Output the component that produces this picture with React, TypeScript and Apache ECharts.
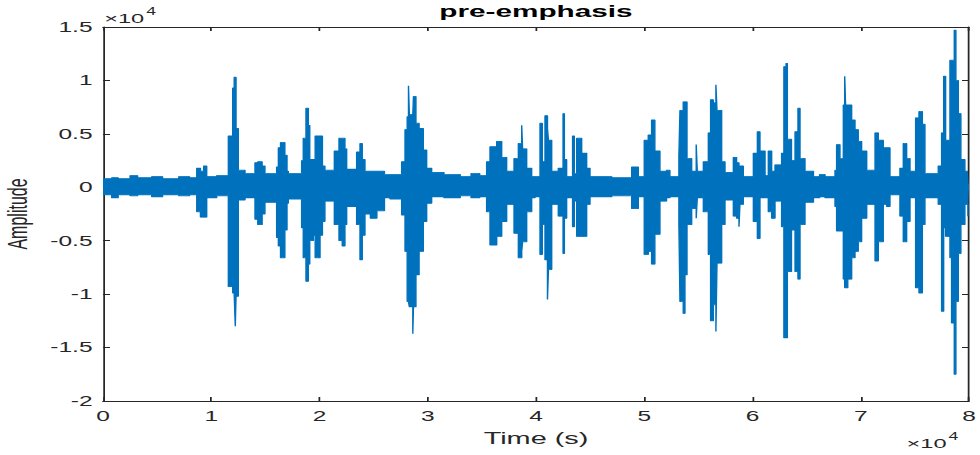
import React, { useEffect, useRef } from "react";
import * as echarts from "echarts";

// Axis ticks (time axis in units of 1e4 samples, amplitude in units of 1e4)
const xTicks = [0, 1, 2, 3, 4, 5, 6, 7, 8];
const yTicks = [-2, -1.5, -1, -0.5, 0, 0.5, 1, 1.5];
const xMax = 8;

// Waveform envelope: [segment start (x1e4), upper (x1e4), lower (x1e4)]
// each segment lasts until the next start
const envelope: [number, number, number][] = [
  [0.0, 0.08, -0.07], [0.08, 0.09, -0.1], [0.14, 0.08, -0.07], [0.25, 0.11, -0.08],
  [0.32, 0.09, -0.07], [0.45, 0.1, -0.09], [0.55, 0.08, -0.07], [0.7, 0.1, -0.08],
  [0.8, 0.09, -0.07], [0.866, 0.18, -0.23], [0.9, 0.15, -0.28], [0.93, 0.2, -0.28],
  [0.958, 0.1, -0.1], [1.05, 0.11, -0.08], [1.158, 0.48, -0.93], [1.198, 0.93, -0.99],
  [1.212, 1.03, -1.0], [1.222, 1.03, -1.3], [1.229, 0.55, -1.02], [1.25, 0.16, -0.12],
  [1.312, 0.13, -0.1], [1.404, 0.23, -0.3], [1.43, 0.24, -0.35], [1.47, 0.2, -0.25],
  [1.496, 0.13, -0.14], [1.604, 0.19, -0.47], [1.62, 0.37, -0.55], [1.64, 0.42, -0.66],
  [1.68, 0.3, -0.4], [1.7, 0.15, -0.15], [1.712, 0.13, -0.11], [1.835, 0.25, -0.38],
  [1.85, 0.46, -0.66], [1.875, 0.74, -0.88], [1.897, 0.58, -0.72], [1.91, 0.26, -0.5],
  [1.943, 0.26, -0.45], [1.96, 0.48, -0.66], [2.005, 0.48, -0.45], [2.027, 0.2, -0.32],
  [2.05, 0.16, -0.13], [2.137, 0.34, -0.35], [2.18, 0.46, -0.5], [2.21, 0.46, -0.55],
  [2.235, 0.36, -0.35], [2.251, 0.17, -0.18], [2.343, 0.33, -0.35], [2.374, 0.41, -0.68],
  [2.395, 0.26, -0.45], [2.42, 0.15, -0.25], [2.47, 0.15, -0.29], [2.53, 0.15, -0.22],
  [2.6, 0.12, -0.1], [2.651, 0.12, -0.11], [2.759, 0.24, -0.26], [2.79, 0.54, -0.6],
  [2.81, 0.66, -1.07], [2.822, 0.95, -1.07], [2.83, 0.68, -1.12], [2.862, 0.68, -1.37],
  [2.868, 0.85, -1.12], [2.891, 0.6, -0.82], [2.92, 0.55, -0.6], [2.959, 0.35, -0.32],
  [2.99, 0.18, -0.15], [3.036, 0.14, -0.09], [3.15, 0.12, -0.1], [3.3, 0.1, -0.08],
  [3.4, 0.13, -0.1], [3.48, 0.11, -0.09], [3.544, 0.24, -0.23], [3.575, 0.38, -0.54],
  [3.637, 0.43, -0.46], [3.683, 0.28, -0.32], [3.729, 0.15, -0.16], [3.797, 0.27, -0.43],
  [3.837, 0.41, -0.66], [3.868, 0.58, -0.6], [3.876, 0.36, -0.51], [3.914, 0.18, -0.23],
  [3.96, 0.1, -0.1], [3.991, 0.1, -0.09], [4.037, 0.6, -0.63], [4.058, 0.24, -0.35],
  [4.083, 0.67, -0.68], [4.106, 0.55, -1.05], [4.115, 0.44, -0.77], [4.145, 0.15, -0.16],
  [4.206, 0.18, -0.27], [4.25, 0.69, -0.62], [4.262, 0.26, -0.29], [4.283, 0.1, -0.1],
  [4.338, 0.48, -0.37], [4.354, 0.13, -0.13], [4.376, 0.46, -0.46], [4.422, 0.32, -0.46],
  [4.468, 0.18, -0.16], [4.499, 0.1, -0.09], [4.7, 0.09, -0.08], [4.884, 0.19, -0.2],
  [4.945, 0.1, -0.09], [5.0, 0.44, -0.63], [5.037, 0.49, -0.6], [5.068, 0.63, -0.72],
  [5.098, 0.34, -0.44], [5.145, 0.15, -0.13], [5.206, 0.16, -0.1], [5.237, 0.1, -0.09],
  [5.32, 0.29, -0.35], [5.33, 0.72, -1.07], [5.36, 0.8, -1.18], [5.376, 0.8, -0.82],
  [5.395, 0.27, -0.35], [5.438, 0.15, -0.2], [5.48, 0.4, -0.29], [5.49, 0.15, -0.1],
  [5.546, 0.24, -0.23], [5.592, 0.51, -0.63], [5.613, 0.82, -1.25], [5.638, 0.79, -1.1],
  [5.662, 0.96, -1.35], [5.672, 0.72, -0.71], [5.715, 0.24, -0.35], [5.746, 0.14, -0.12],
  [5.823, 0.28, -0.27], [5.853, 0.23, -0.29], [5.875, 0.2, -0.37], [5.884, 0.2, -0.16],
  [5.915, 0.1, -0.09], [6.008, 0.32, -0.32], [6.045, 0.52, -0.48], [6.069, 0.34, -0.1],
  [6.116, 0.11, -0.1], [6.146, 0.34, -0.23], [6.177, 0.15, -0.29], [6.208, 0.21, -0.13],
  [6.269, 0.32, -0.37], [6.29, 1.13, -1.41], [6.31, 1.16, -1.41], [6.322, 0.45, -0.79],
  [6.36, 0.25, -0.4], [6.393, 0.52, -0.79], [6.42, 0.74, -0.86], [6.439, 0.27, -0.35],
  [6.485, 0.15, -0.14], [6.563, 0.1, -0.1], [6.62, 0.12, -0.09], [6.67, 0.1, -0.1],
  [6.762, 0.16, -0.18], [6.777, 0.4, -0.41], [6.808, 0.27, -0.41], [6.839, 0.77, -0.86],
  [6.852, 1.04, -0.94], [6.86, 0.77, -0.94], [6.88, 0.77, -0.86], [6.916, 0.63, -0.66],
  [6.947, 0.54, -0.6], [6.977, 0.43, -0.51], [7.008, 0.34, -0.29], [7.055, 0.16, -0.16],
  [7.132, 0.51, -0.69], [7.162, 0.44, -0.51], [7.208, 0.37, -0.16], [7.239, 0.37, -0.18],
  [7.27, 0.1, -0.07], [7.362, 0.18, -0.27], [7.393, 0.41, -0.51], [7.424, 0.27, -0.32],
  [7.455, 0.15, -0.1], [7.507, 0.65, -0.94], [7.538, 0.71, -0.99], [7.569, 0.59, -0.35],
  [7.593, 0.13, -0.1], [7.716, 0.2, -0.16], [7.747, 0.51, -1.16], [7.766, 1.04, -0.38],
  [7.784, 0.44, -0.46], [7.824, 1.19, -0.66], [7.839, 1.19, -1.27], [7.864, 1.47, -1.75],
  [7.879, 1.0, -1.07], [7.901, 0.69, -0.62], [7.925, 0.26, -0.35], [7.962, 0.15, -0.16],
  [7.99, 0.15, -0.27],
];

const STRETCH = 1.75;
const BASE_W = 980 / STRETCH;
const H = 455;
const AX = "#262626";
const BLUE = "#0072BD";
const FONT = "'Liberation Sans', Arial, Helvetica, sans-serif";

export default function App() {
  const ref = useRef<HTMLDivElement>(null);

  useEffect(() => {
    if (!ref.current) return;
    const chart = echarts.init(ref.current, null, { renderer: "svg", width: BASE_W, height: H });
    const last = envelope[envelope.length - 1];
    const upper = envelope.map((e) => [e[0], e[1]]).concat([[xMax, last[1]]]);
    const lower = envelope.map((e) => [e[0], e[2]]).concat([[xMax, last[2]]]);
    const gridLeft = 103 / STRETCH;
    const gridRight = BASE_W - 969 / STRETCH;
    const axisCommon = {
      axisLine: { show: true, onZero: false, lineStyle: { color: AX, width: 1 } },
      axisTick: { show: true, inside: true, length: 4, lineStyle: { color: AX, width: 1 } },
      splitLine: { show: false },
    };
    const waveSeries = (data: number[][], origin: number) => ({
      type: "line",
      xAxisIndex: 0,
      yAxisIndex: 0,
      step: "end",
      data,
      symbol: "none",
      silent: true,
      clip: true,
      lineStyle: { color: BLUE, width: 0.8 },
      areaStyle: { color: BLUE, opacity: 1, origin },
      z: 2,
    });
    chart.setOption({
      animation: false,
      backgroundColor: "#ffffff",
      title: {
        text: "pre-emphasis",
        left: 251,
        top: 3,
        padding: 0,
        textStyle: { fontFamily: FONT, fontSize: 17, fontWeight: "bold", color: "#000" },
      },
      grid: {
        left: gridLeft,
        right: gridRight,
        top: 27,
        bottom: 54,
        containLabel: false,
        outerBoundsMode: "none",
      },
      xAxis: [
        {
          type: "value",
          position: "bottom",
          min: xTicks[0],
          max: xTicks[xTicks.length - 1],
          interval: 1,
          ...axisCommon,
          axisLabel: { color: AX, fontFamily: FONT, fontSize: 14, margin: 8, formatter: (v: number) => String(v) },
          name: "Time (s)",
          nameLocation: "middle",
          nameGap: 29,
          nameTextStyle: { color: AX, fontFamily: FONT, fontSize: 16.5 },
        },
        {
          type: "value",
          position: "top",
          min: xTicks[0],
          max: xTicks[xTicks.length - 1],
          interval: 1,
          ...axisCommon,
          axisLabel: { show: false },
        },
      ],
      yAxis: [
        {
          type: "value",
          position: "left",
          min: yTicks[0],
          max: yTicks[yTicks.length - 1],
          interval: 0.5,
          ...axisCommon,
          axisLabel: { color: AX, fontFamily: FONT, fontSize: 14, margin: 6, formatter: (v: number) => String(v) },
          name: "Amplitude",
          nameLocation: "middle",
          nameGap: 37,
          nameTextStyle: { color: AX, fontFamily: FONT, fontSize: 16 },
        },
        {
          type: "value",
          position: "right",
          min: yTicks[0],
          max: yTicks[yTicks.length - 1],
          interval: 0.5,
          ...axisCommon,
          axisLabel: { show: false },
        },
      ],
      graphic: [
        { type: "text", left: 59.5, top: 11, style: { text: "×10", fontFamily: FONT, fontSize: 13.5, fill: AX } },
        { type: "text", left: 83.5, top: 6, style: { text: "4", fontFamily: FONT, fontSize: 10, fill: AX } },
        { type: "text", left: 518, top: 436, style: { text: "×10", fontFamily: FONT, fontSize: 13.5, fill: AX } },
        { type: "text", left: 542, top: 431, style: { text: "4", fontFamily: FONT, fontSize: 10, fill: AX } },
      ],
      series: [waveSeries(upper, -0.03), waveSeries(lower, 0.03)],
    });
    return () => chart.dispose();
  }, []);

  return (
    <div
      ref={ref}
      style={{
        position: "fixed",
        left: 0,
        top: 0,
        width: BASE_W,
        height: H,
        transform: `scaleX(${STRETCH})`,
        transformOrigin: "0 0",
      }}
    />
  );
}
